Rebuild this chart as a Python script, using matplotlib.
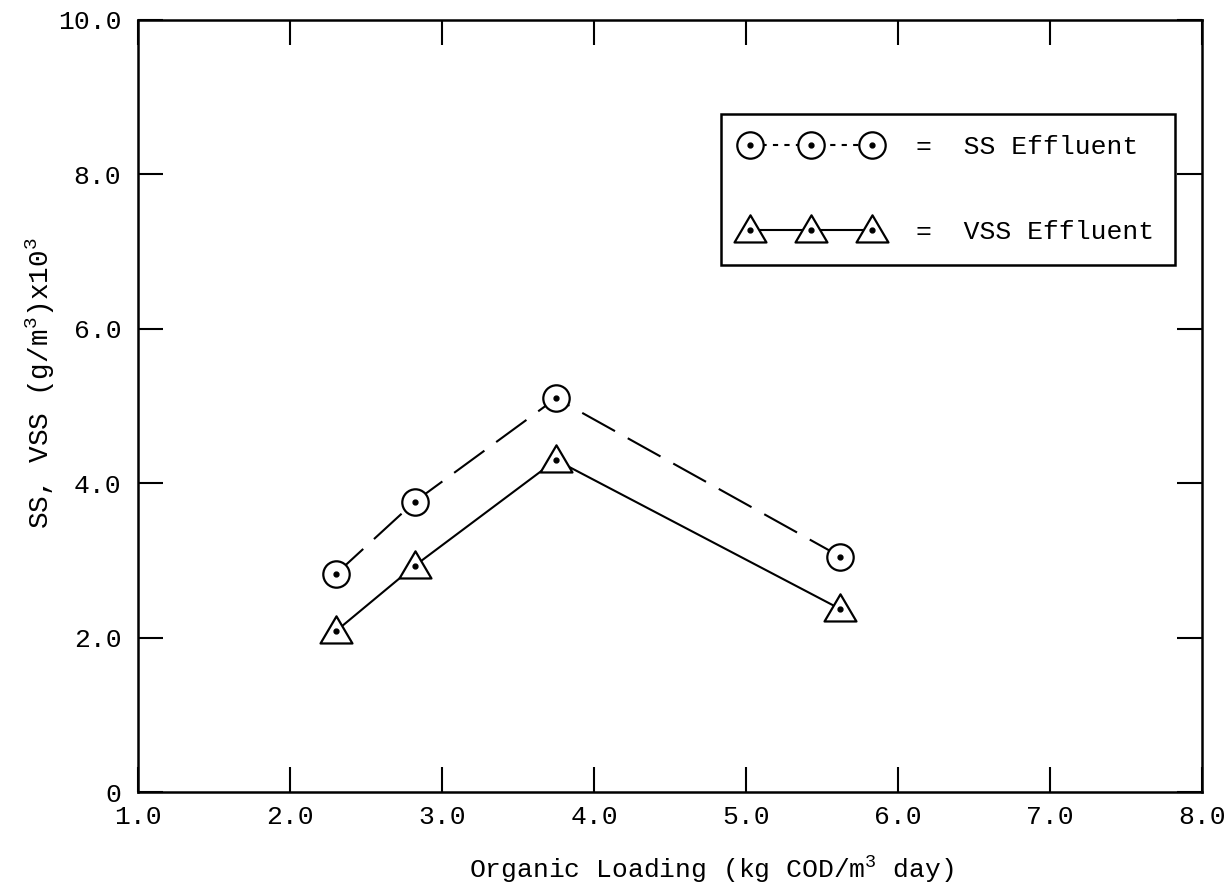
import matplotlib
matplotlib.use("Agg")
import matplotlib.pyplot as plt
from matplotlib.lines import Line2D
from matplotlib.path import Path
from matplotlib.legend_handler import HandlerTuple

# ---- data ----
organic_loading = [2.30, 2.82, 3.75, 5.62]
ss_effluent = [2.82, 3.76, 5.10, 3.05]
vss_effluent = [2.08, 2.93, 4.30, 2.37]

x_ticks = [1.0, 2.0, 3.0, 4.0, 5.0, 6.0, 7.0, 8.0]
x_tick_labels = ["1.0", "2.0", "3.0", "4.0", "5.0", "6.0", "7.0", "8.0"]
y_ticks = [0, 2.0, 4.0, 6.0, 8.0, 10.0]
y_tick_labels = ["0", "2.0", "4.0", "6.0", "8.0", "10.0"]

ss_label = "=  SS Effluent"
vss_label = "=  VSS Effluent"
x_label = r"Organic Loading (kg COD/m$^3$ day)"
y_label = r"SS, VSS (g/m$^3$)x10$^3$"

# ---- style ----
plt.rcParams["font.family"] = ["Liberation Mono", "DejaVu Sans"]
plt.rcParams["mathtext.fontset"] = "custom"
plt.rcParams["mathtext.rm"] = "Liberation Mono"
plt.rcParams["mathtext.it"] = "Liberation Mono"
plt.rcParams["mathtext.bf"] = "Liberation Mono"

tri_verts = [(-1.0, -0.75), (1.0, -0.75), (0.0, 0.95), (-1.0, -0.75)]
tri = Path(tri_verts, [Path.MOVETO, Path.LINETO, Path.LINETO, Path.CLOSEPOLY])

fig = plt.figure(figsize=(12.29, 8.91), dpi=100)
ax = fig.add_axes([138 / 1229, 1 - 792 / 891, (1202 - 138) / 1229, (792 - 20) / 891])

lw = 1.5
ss_line, = ax.plot(organic_loading, ss_effluent, color="black", lw=lw,
                   dashes=(18, 7), marker="o", ms=19, mfc="white",
                   mec="black", mew=1.6)
ax.plot(organic_loading, ss_effluent, ls="none", marker="o", ms=3.5,
        color="black")
vss_line, = ax.plot(organic_loading, vss_effluent, color="black", lw=lw,
                    marker=tri, ms=23, mfc="white", mec="black", mew=1.6)
ax.plot(organic_loading, vss_effluent, ls="none", marker="o", ms=3.5,
        color="black")

ax.set_xlim(x_ticks[0], x_ticks[-1])
ax.set_ylim(y_ticks[0], y_ticks[-1])
ax.set_xticks(x_ticks)
ax.set_xticklabels(x_tick_labels)
ax.set_yticks(y_ticks)
ax.set_yticklabels(y_tick_labels)

ax.tick_params(axis="both", direction="in", length=18, width=1.5,
               top=True, right=True, labelsize=19, colors="black")
ax.tick_params(axis="x", pad=9)
ax.tick_params(axis="y", pad=12)
for sp in ax.spines.values():
    sp.set_linewidth(1.8)
    sp.set_color("black")

ax.set_xlabel(x_label, fontsize=19)
ax.set_ylabel(y_label, fontsize=20)
ax.xaxis.set_label_coords(0.539, -0.081)
ax.yaxis.set_label_coords(-0.076, 0.53)

# legend proxies (short dashes as drawn in the key)
ss_key = Line2D([], [], color="black", lw=lw, dashes=(2.5, 3), marker="o",
                ms=19, mfc="white", mec="black", mew=1.6)
vss_key = Line2D([], [], color="black", lw=lw, marker=tri, ms=23,
                 mfc="white", mec="black", mew=1.6)
dot_key = Line2D([], [], ls="none", marker="o", ms=3.5, color="black")

leg = ax.legend([(ss_key, dot_key), (vss_key, dot_key)], [ss_label, vss_label],
                handler_map={tuple: HandlerTuple(ndivide=1, pad=0)},
                numpoints=3, loc="upper left", bbox_to_anchor=(0.548, 0.878),
                borderaxespad=0, borderpad=0.8, labelspacing=2.3,
                handlelength=5.23, handletextpad=1.35, fontsize=19,
                fancybox=False, framealpha=1, edgecolor="black")
leg.get_frame().set_linewidth(1.8)

fig.savefig("out.png", dpi=100, facecolor="white")
